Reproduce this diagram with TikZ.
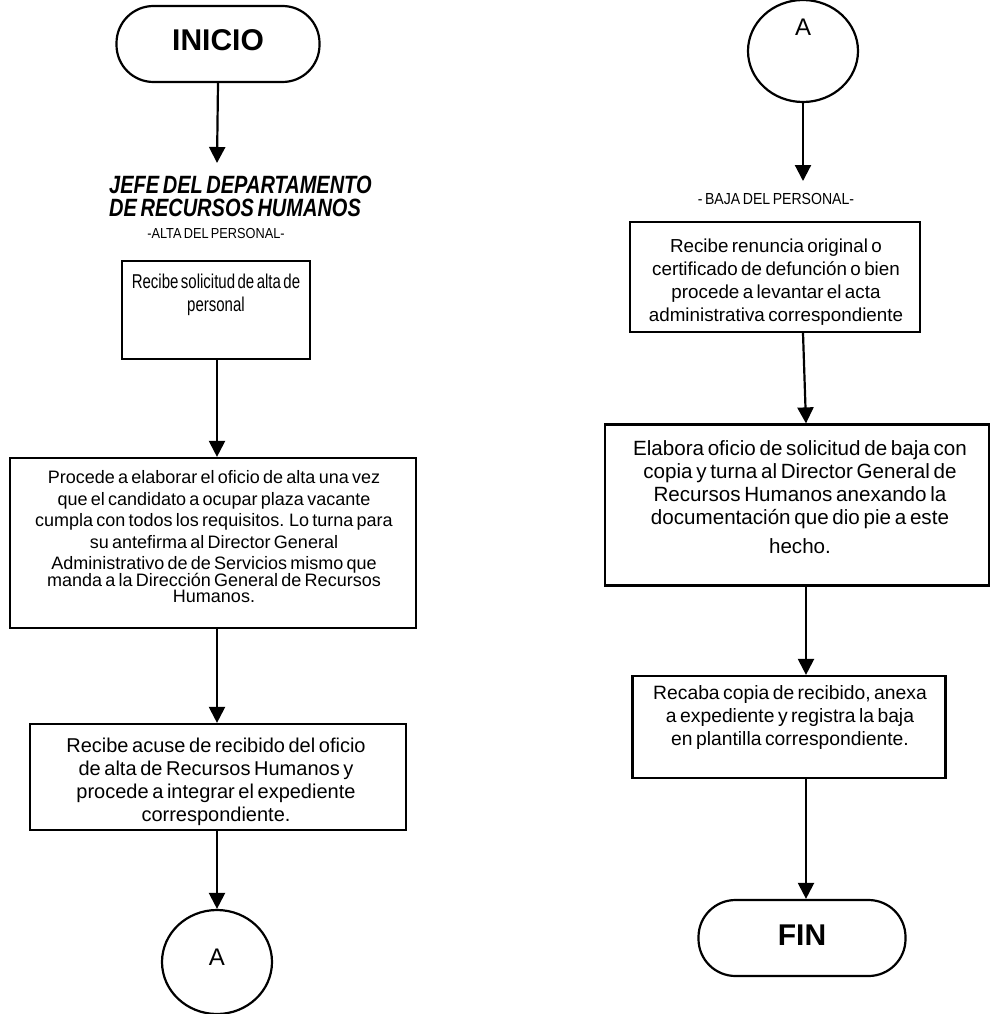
\documentclass[tikz,border=0pt]{standalone}
\usepackage{fontspec}
\setmainfont{Liberation Sans}[WordSpace=0.65]
\newfontfamily\condfont{Liberation Sans}[FakeStretch=0.88, WordSpace=0.65]
\newfontfamily\narrowfont{Liberation Sans}[FakeStretch=0.8, WordSpace=0.65]
\newfontfamily\tightfont{Liberation Sans}[FakeStretch=0.75, WordSpace=0.6]
\usetikzlibrary{arrows.meta,shapes.geometric}
\tikzset{
  box/.style={draw, line width=2.2pt, inner sep=0pt},
  term/.style={draw, line width=2.2pt, inner sep=0pt, rounded corners=37pt},
  conn/.style={draw, line width=2.2pt, ellipse, inner sep=0pt},
  arr/.style={line width=2.2pt, -{Triangle[width=16pt,length=16pt]}},
  lbl/.style={inner sep=0pt, align=center},
}
\begin{document}
\begin{tikzpicture}[x=1pt,y=-1pt]
\useasboundingbox (0,0) rectangle (992,1014);
% ---------------- left column
\node[term, minimum width=203pt, minimum height=76pt] (inicio) at (218,44) {};
\node[lbl, font=\fontsize{30}{32}\selectfont\bfseries] (tinicio) at (218,40) {INICIO};
\node[lbl, anchor=north west, align=left, font=\narrowfont\fontsize{25}{23}\selectfont\bfseries\itshape] (jefe) at (109,176) {JEFE DEL DEPARTAMENTO\\DE RECURSOS HUMANOS};
\coordinate (jefetop) at (217,163);
\node[lbl, font=\condfont\fontsize{14.5}{16}\selectfont] (alta) at (216,234) {-ALTA DEL PERSONAL-};
\node[box, minimum width=188pt, minimum height=98pt] (b1) at (216,310) {};
\node[lbl, font=\tightfont\fontsize{20}{23}\selectfont] (t1) at (216,295) {Recibe solicitud de alta de\\personal};
\node[box, minimum width=406pt, minimum height=170pt] (b2) at (213,543) {};
\node[lbl, font=\fontsize{18}{21.5}\selectfont] (t2) at (214,537) {Procede a elaborar el oficio de alta una vez\\que el candidato a ocupar plaza vacante\\cumpla con todos los requisitos. Lo turna para\\su antefirma al Director General\\Administrativo de de Servicios mismo que\\[-5pt]manda a la Dirección General de Recursos\\[-5pt]Humanos.};
\node[box, minimum width=376pt, minimum height=106pt] (b3) at (218,777) {};
\node[lbl, font=\fontsize{20}{23}\selectfont] (t3) at (216,782) {Recibe acuse de recibido del oficio\\de alta de Recursos Humanos y\\procede a integrar el expediente\\correspondiente.};
\node[conn, minimum width=110pt, minimum height=104pt] (a1) at (217,962) {};
\node[lbl, font=\fontsize{24}{26}\selectfont] (ta1) at (217,957) {A};
\draw[arr] (inicio.south) -- (jefetop);
\draw[arr] (b1.south -| jefetop) -- (b2.north -| jefetop);
\draw[arr] (b2.south -| jefetop) -- (b3.north -| jefetop);
\draw[arr] (b3.south -| jefetop) -- (a1.north);
% ---------------- right column
\node[conn, minimum width=110pt, minimum height=102pt] (a2) at (803,51) {};
\node[lbl, font=\fontsize{24}{26}\selectfont] (ta2) at (803,27) {A};
\coordinate (bajatop) at (803,181);
\coordinate (rx) at (806,0);
\node[lbl, font=\condfont\fontsize{16}{18}\selectfont] (baja) at (776,199) {- BAJA DEL PERSONAL-};
\node[box, minimum width=290pt, minimum height=110pt] (b4) at (775,277) {};
\node[lbl, font=\fontsize{18.8}{23}\selectfont] (t4) at (776,282) {Recibe renuncia original o\\certificado de defunción o bien\\procede a levantar el acta\\administrativa correspondiente};
\node[box, minimum width=384pt, minimum height=161pt] (b5) at (797,505) {};
\node[lbl, font=\fontsize{20.6}{23}\selectfont] (t5) at (800,497) {Elabora oficio de solicitud de baja con\\copia y turna al Director General de\\Recursos Humanos anexando la\\documentación que dio pie a este\\[6pt]hecho.};
\node[box, minimum width=313pt, minimum height=102pt] (b6) at (789,727) {};
\node[lbl, font=\fontsize{19.3}{23}\selectfont] (t6) at (790,718) {Recaba copia de recibido, anexa\\a expediente y registra la baja\\en plantilla correspondiente.};
\node[term, minimum width=207pt, minimum height=76pt] (fin) at (802,938) {};
\node[lbl, font=\fontsize{30}{32}\selectfont\bfseries] (tfin) at (802,935) {FIN};
\draw[arr] (a2.south) -- (bajatop);
\draw[arr] (b4.south -| a2) -- (b5.north -| rx);
\draw[arr] (b5.south -| rx) -- (b6.north -| rx);
\draw[arr] (b6.south -| rx) -- (fin.north -| rx);
\end{tikzpicture}
\end{document}
